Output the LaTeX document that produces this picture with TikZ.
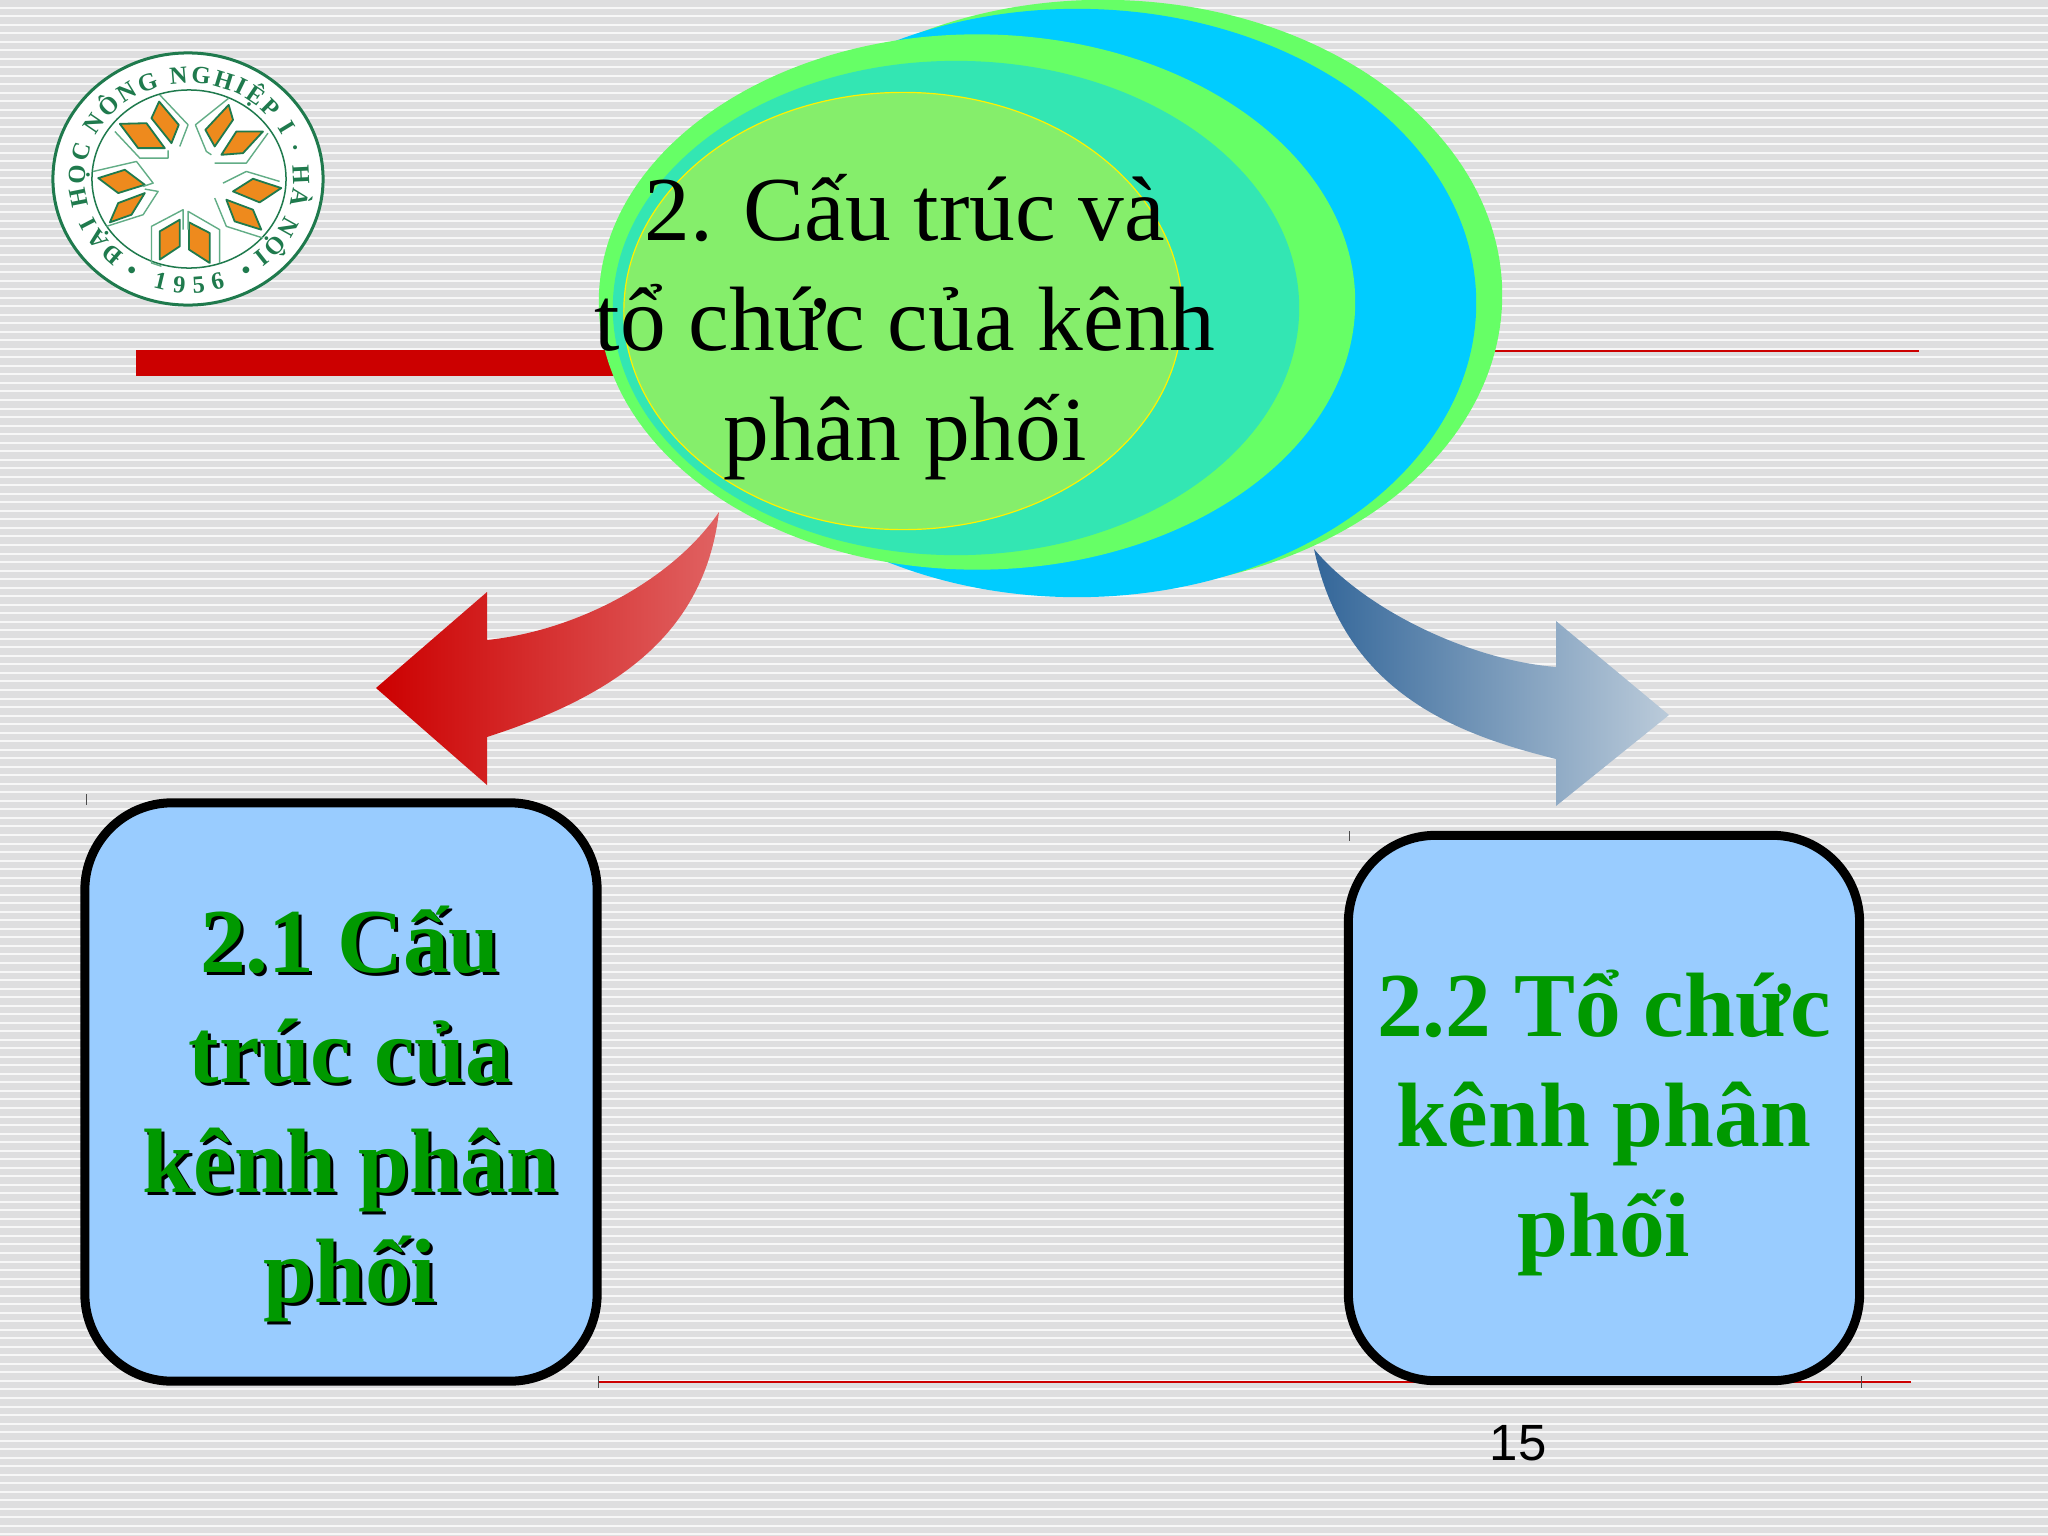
\documentclass[tikz,border=0pt]{standalone}
\usepackage{xcolor}
\usepackage{fontspec}
\setmainfont{Liberation Serif}
\newfontfamily\numfont{Liberation Sans}
\usetikzlibrary{positioning,shapes.geometric,decorations.text}
\definecolor{StripeGray}{HTML}{DEDEDF}
\definecolor{StripeLight}{HTML}{F7F7F7}
\definecolor{RuleRed}{HTML}{CC0000}
\definecolor{ArrowRedPale}{HTML}{E06262}
\definecolor{ArrowBlue}{HTML}{336699}
\definecolor{ArrowBluePale}{HTML}{BBCBDA}
\definecolor{RingGreen}{HTML}{66FF66}
\definecolor{RingBlue}{HTML}{00CCFF}
\definecolor{RingTeal}{HTML}{33E6B3}
\definecolor{CoreGreen}{HTML}{85EE6B}
\definecolor{BoxBlue}{HTML}{99CCFF}
\definecolor{TextGreen}{HTML}{009900}
\definecolor{LogoGreen}{HTML}{1F7A4D}
\definecolor{LogoPale}{HTML}{62AD86}
\definecolor{LogoOrange}{HTML}{EE8A1D}
\newcommand\logofont{\fontsize{7}{8}\selectfont\bfseries\color{LogoGreen}}
\tikzset{
  ringnode/.style={ellipse,inner sep=0pt,outer sep=0pt},
  boxnode/.style={draw=black,fill=BoxBlue,line width=0.09cm,rounded corners=0.87cm,
    inner sep=0pt},
  headtext/.style={font=\fontsize{26}{31.3}\selectfont,align=center,inner sep=0pt},
  boxtext/.style={font=\fontsize{26}{31.3}\selectfont\bfseries,align=center,inner sep=0pt,
    text=TextGreen},
  shadowtext/.style={boxtext,text=black},
  thinrule/.style={draw=RuleRed,line width=0.012cm},
  tick/.style={draw=black!70,line width=0.008cm},
  logopetal/.style={fill=LogoOrange,draw=LogoGreen,line width=0.018cm,line join=round},
  logobevel/.style={draw=LogoPale,line width=0.014cm,line join=round},
}
\begin{document}
\begin{tikzpicture}[x=0.01cm,y=-0.01cm]
  \useasboundingbox (0,0) rectangle (2048,1536);
  \fill[StripeGray] (0,0) rectangle (2048,1536);
  \foreach \k in {0,...,180}
    \fill[StripeLight] (0,{6.6+8.53*\k}) rectangle (2048,{8.6+8.53*\k});

  \node[ellipse,draw=LogoGreen,fill=white,line width=0.03cm,minimum width=2.70cm,minimum height=2.52cm,inner sep=0pt] (logo) at (188,179) {};
  \node[ellipse,draw=LogoGreen,line width=0.015cm,minimum width=1.94cm,minimum height=1.78cm,inner sep=0pt] (logoin) at (189,179) {};
  \path[decorate,decoration={text along path,text align={fit to path},
    text={|\logofont|ĐẠI HỌC NÔNG NGHIỆP I · HÀ NỘI}}]
    ({189+104*cos(128)},{179+96*sin(128)}) arc[start angle=128,end angle=412,x radius=104,y radius=96];
  \path[decorate,decoration={text along path,text align={fit to path},
    text={|\logofont|•  1956  •}}]
    ({189+122*cos(122)},{179+114*sin(122)}) arc[start angle=122,end angle=58,x radius=122,y radius=114];
  \begin{scope}[shift={(30,30)},x=0.003333cm,y=-0.003333cm]
    \foreach \p in {
      {(388,215) -- (447,285) -- (425,340) -- (365,265)},
      {(270,282) -- (350,280) -- (405,355) -- (325,355)},
      {(597,225) -- (610,270) -- (555,350) -- (527,300)},
      {(620,305) -- (700,305) -- (640,370) -- (575,375)},
      {(670,447) -- (755,475) -- (690,518) -- (610,485)},
      {(590,510) -- (670,540) -- (695,600) -- (615,575)},
      {(390,605) -- (450,570) -- (450,650) -- (390,690)},
      {(478,578) -- (540,610) -- (540,700) -- (478,660)},
      {(205,445) -- (285,420) -- (345,465) -- (265,490)},
      {(345,490) -- (305,555) -- (240,578) -- (265,520)}}
      \draw[logopetal] \p -- cycle;
    \foreach \p in {
      {(255,305) -- (330,385) -- (415,385) -- (415,362)},
      {(390,195) -- (475,285) -- (450,350)},
      {(597,205) -- (497,285) -- (530,365) -- (545,375)},
      {(555,400) -- (650,400) -- (715,310)},
      {(580,460) -- (650,425) -- (750,455)},
      {(555,505) -- (590,590) -- (700,625)},
      {(460,600) -- (460,540) -- (365,590) -- (365,700) -- (395,710)},
      {(475,600) -- (475,545) -- (570,600) -- (570,700)},
      {(190,425) -- (320,395) -- (370,460) -- (340,470)},
      {(230,590) -- (340,555) -- (385,485) -- (345,478)}}
      \draw[logobevel] \p;
  \end{scope}

  \fill[RuleRed] (136,350) rectangle (620,376);
  \draw[thinrule] (1490,351) -- (1919,351);
  \draw[thinrule] (598,1382) -- (1911,1382);
  \draw[tick] (86,794) -- (86,805);
  \draw[tick] (598,1376) -- (598,1388);
  \draw[tick] (1349,831) -- (1349,841);
  \draw[tick] (1861,1376) -- (1861,1388);

  \node[ringnode,fill=RingGreen,minimum width=7.98cm,minimum height=5.90cm] (ringa) at (1103,295) {};
  \node[ringnode,fill=RingBlue,minimum width=7.98cm,minimum height=5.88cm] (ringb) at (1077,303) {};
  \node[ringnode,fill=RingGreen,minimum width=7.56cm,minimum height=5.35cm] (ringc) at (977,302) {};
  \node[ringnode,fill=RingTeal,minimum width=6.86cm,minimum height=4.94cm] (ringd) at (956,308) {};
  \node[ringnode,fill=CoreGreen,draw=yellow,line width=0.012cm,minimum width=5.58cm,minimum height=4.37cm] (core) at (903,311) {};
  \node[headtext] (title) at (905,327) {2. Cấu trúc và\\tổ chức của kênh\\phân phối};

  \coordinate (redtail) at (719,512);
  \coordinate (redtip) at (376,688);
  \shade[left color=RuleRed,right color=ArrowRedPale]
    (redtail) .. controls (672,581) and (575,631) .. (487,640) -- (487,592) -- (redtip)
    -- (487,785) -- (487,737) .. controls (627,692) and (705,627) .. (redtail) -- cycle;
  \coordinate (bluetail) at (1314,549);
  \coordinate (bluetip) at (1669,715);
  \shade[left color=ArrowBlue,right color=ArrowBluePale]
    (bluetail) .. controls (1365,610) and (1470,660) .. (1556,667) -- (1556,621) -- (bluetip)
    -- (1556,806) -- (1556,759) .. controls (1460,735) and (1345,695) .. (bluetail) -- cycle;

  \node[boxnode,minimum width=5.12cm,minimum height=5.78cm] (boxa) at (341,1092) {};
  \node[boxnode,minimum width=5.11cm,minimum height=5.45cm] (boxb) at (1604,1108) {};
  \node[shadowtext] (shadea) at (353,1117) {2.1 Cấu\\trúc của\\kênh phân\\phối};
  \node[boxtext] (texta) at (350,1114) {2.1 Cấu\\trúc của\\kênh phân\\phối};
  \node[boxtext] (textb) at (1604,1123) {2.2 Tổ chức\\kênh phân\\phối};
  \node[font=\numfont\fontsize{14.5}{18}\selectfont,inner sep=0pt] (page) at (1518,1443) {15};
\end{tikzpicture}
\end{document}
